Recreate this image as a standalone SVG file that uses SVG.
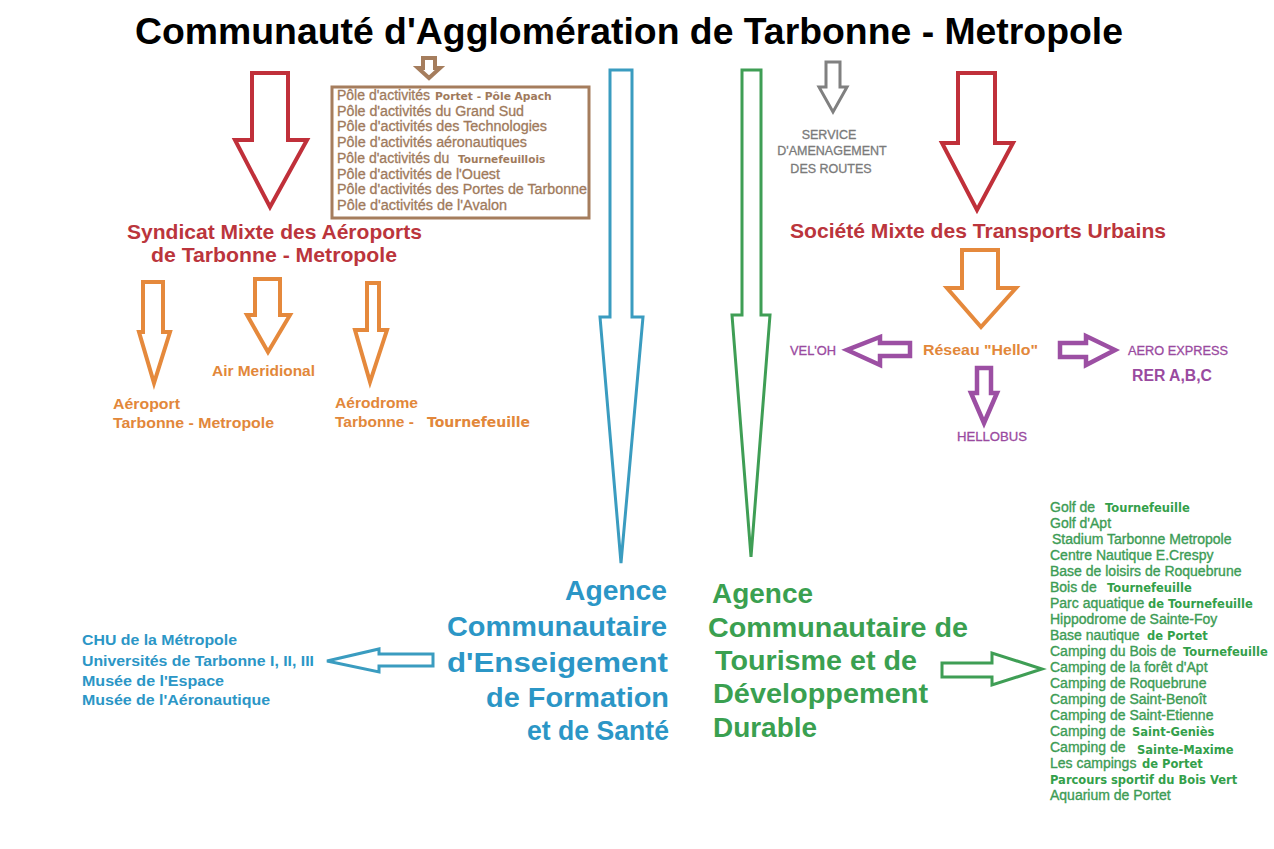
<svg xmlns="http://www.w3.org/2000/svg" width="1274" height="849" viewBox="0 0 1274 849">
<style>
text{font-family:"Liberation Sans",Arial,sans-serif}
.b{font-weight:bold}
.dj{font-family:"DejaVu Sans",Verdana,sans-serif;font-weight:bold;stroke:none}
.arr{fill:#fff;stroke-linejoin:miter}
.red{stroke:#c0303a;stroke-width:4}
.org{stroke:#e5893c;stroke-width:4}
.brn{stroke:#a57d5d;stroke-width:4}
.gry{stroke:#808080;stroke-width:3}
.pur{stroke:#9c4fa3;stroke-width:4.5}
.blu{stroke:#3a9cc0;stroke-width:3}
.grn{stroke:#3f9e55;stroke-width:3}
.tred{fill:#bb353c}
.torg{fill:#e2873a}
.tbrn{fill:#a07a5c;font-size:14px;stroke:#a07a5c;stroke-width:0.3}
.tgry{fill:#7a7a7a;font-size:12.5px;stroke:#7a7a7a;stroke-width:0.3}
.tpur{fill:#9a4a9f}
.thin{stroke:#9a4a9f;stroke-width:0.3}
.tblu{fill:#2b96c6}
.tgrn{fill:#3aa050}
.lst{fill:#3d9c55;font-size:14px;stroke:#3d9c55;stroke-width:0.35}
.lst .dj{font-size:11.5px;fill:#33a04a}
</style>
<rect width="1274" height="849" fill="#fff"/>

<g id="connectors">
  <polygon class="arr red" points="252,73 288,73 288,140 307,140 270,207 235,140 252,140"/>
  <polygon class="arr brn" points="423,58 435,58 435,68 440,68 429,78 418,68 423,68"/>
  <polygon class="arr blu" points="610,70 632,70 632,317 643,317 621,563 600,317 610,317"/>
  <polygon class="arr grn" points="742,70 761,70 761,315 770,315 751,557 732,315 742,315"/>
  <polygon class="arr gry" points="826,62 840,62 840,87 847,87 833,112 819,87 826,87"/>
  <polygon class="arr red" points="958,73 995,73 995,143 1013,143 977,210 942,143 958,143"/>
  <polygon class="arr org" points="143,282 163,282 163,332 170,332 154,383 139,332 143,332"/>
  <polygon class="arr org" points="255,279 280,279 280,315 290,315 268,352 247,315 255,315"/>
  <polygon class="arr org" points="367,283 379,283 379,330 387,330 370,382 355,330 367,330"/>
  <polygon class="arr org" points="962,250 998,250 998,288 1016,288 981,327 947,288 962,288"/>
  <polygon class="arr pur" points="910,343 910,356 880,356 880,365 847,350 880,337 880,343"/>
  <polygon class="arr pur" points="1060,343 1086,343 1086,336 1115,350 1086,365 1086,357 1060,357"/>
  <polygon class="arr pur" points="977,368 991,368 991,393 997,393 984,423 971,393 977,393"/>
  <polygon class="arr blu" points="433,654 433,666 379,666 379,672 327,661 379,649 379,654"/>
  <polygon class="arr grn" points="942,663 992,663 992,653 1042,669 992,685 992,677 942,677"/>
</g>

<g id="title">
  <text x="135" y="44" class="b" font-size="37" fill="#000" textLength="988" lengthAdjust="spacingAndGlyphs">Communauté d'Agglomération de Tarbonne - Metropole</text>
</g>

<g id="poles">
  <rect x="332" y="87" width="257" height="131" fill="none" stroke="#a57d5d" stroke-width="3"/>
  <text class="tbrn" x="337" y="100">Pôle d'activités <tspan class="dj" x="435" font-size="10.7">Portet - Pôle Apach</tspan></text>
  <text class="tbrn" x="337" y="115.7" textLength="187" lengthAdjust="spacingAndGlyphs">Pôle d'activités du Grand Sud</text>
  <text class="tbrn" x="337" y="131.4" textLength="210" lengthAdjust="spacingAndGlyphs">Pôle d'activités des Technologies</text>
  <text class="tbrn" x="337" y="147.1" textLength="190" lengthAdjust="spacingAndGlyphs">Pôle d'activités aéronautiques</text>
  <text class="tbrn" x="337" y="162.8">Pôle d'activités du <tspan class="dj" x="458" font-size="10.5">Tournefeuillois</tspan></text>
  <text class="tbrn" x="337" y="178.5" textLength="163" lengthAdjust="spacingAndGlyphs">Pôle d'activités de l'Ouest</text>
  <text class="tbrn" x="337" y="194.2" textLength="250" lengthAdjust="spacingAndGlyphs">Pôle d'activités des Portes de Tarbonne</text>
  <text class="tbrn" x="337" y="209.9" textLength="170" lengthAdjust="spacingAndGlyphs">Pôle d'activités de l'Avalon</text>
</g>

<g id="syndicat">
  <text class="b tred" x="127" y="239" font-size="21" textLength="295" lengthAdjust="spacingAndGlyphs">Syndicat Mixte des Aéroports</text>
  <text class="b tred" x="151" y="262" font-size="21" textLength="246" lengthAdjust="spacingAndGlyphs">de Tarbonne - Metropole</text>
</g>

<g id="aeroport">
  <text class="b torg" x="113" y="409" font-size="15.5" textLength="67" lengthAdjust="spacingAndGlyphs">Aéroport</text>
  <text class="b torg" x="113" y="428" font-size="15.5" textLength="161" lengthAdjust="spacingAndGlyphs">Tarbonne - Metropole</text>
</g>
<g id="air-meridional">
  <text class="b torg" x="212" y="376" font-size="15.5" textLength="103" lengthAdjust="spacingAndGlyphs">Air Meridional</text>
</g>
<g id="aerodrome">
  <text class="b torg" x="335" y="408" font-size="15.5" textLength="83" lengthAdjust="spacingAndGlyphs">Aérodrome</text>
  <text class="b torg" x="335" y="427" font-size="15.5">Tarbonne - <tspan class="dj" x="427" font-size="14">Tournefeuille</tspan></text>
</g>

<g id="service-routes">
  <text class="tgry" x="829" y="139" text-anchor="middle">SERVICE</text>
  <text class="tgry" x="832" y="155" text-anchor="middle">D'AMENAGEMENT</text>
  <text class="tgry" x="831" y="173" text-anchor="middle">DES ROUTES</text>
</g>

<g id="smtu">
  <text class="b tred" x="790" y="238" font-size="21" textLength="376" lengthAdjust="spacingAndGlyphs">Société Mixte des Transports Urbains</text>
</g>

<g id="reseau-hello">
  <text class="b torg" x="923" y="355" font-size="15.5" textLength="115" lengthAdjust="spacingAndGlyphs">Réseau "Hello"</text>
</g>
<g id="veloh">
  <text class="tpur thin" x="790" y="355" font-size="12.5" textLength="46" lengthAdjust="spacingAndGlyphs">VEL'OH</text>
</g>
<g id="aero-express">
  <text class="tpur thin" x="1128" y="355" font-size="12.5" textLength="100" lengthAdjust="spacingAndGlyphs">AERO EXPRESS</text>
  <text class="b tpur" x="1132" y="381" font-size="16" textLength="80" lengthAdjust="spacingAndGlyphs">RER A,B,C</text>
</g>
<g id="hellobus">
  <text class="tpur thin" x="957" y="441" font-size="12.5" textLength="70" lengthAdjust="spacingAndGlyphs">HELLOBUS</text>
</g>

<g id="agence-enseignement">
  <text class="b tblu" x="565" y="600" font-size="28" textLength="102" lengthAdjust="spacingAndGlyphs">Agence</text>
  <text class="b tblu" x="447" y="636" font-size="28" textLength="220" lengthAdjust="spacingAndGlyphs">Communautaire</text>
  <text class="b tblu" x="447" y="672" font-size="28" textLength="221" lengthAdjust="spacingAndGlyphs">d'Enseigement</text>
  <text class="b tblu" x="486" y="707" font-size="28" textLength="183" lengthAdjust="spacingAndGlyphs">de Formation</text>
  <text class="b tblu" x="527" y="740" font-size="28" textLength="142" lengthAdjust="spacingAndGlyphs">et de Santé</text>
</g>

<g id="etablissements">
  <text class="b tblu" x="82" y="645" font-size="14" textLength="155" lengthAdjust="spacingAndGlyphs">CHU de la Métropole</text>
  <text class="b tblu" x="82" y="666" font-size="14" textLength="232" lengthAdjust="spacingAndGlyphs">Universités de Tarbonne I, II, III</text>
  <text class="b tblu" x="82" y="686" font-size="14" textLength="142" lengthAdjust="spacingAndGlyphs">Musée de l'Espace</text>
  <text class="b tblu" x="82" y="705" font-size="14" textLength="188" lengthAdjust="spacingAndGlyphs">Musée de l'Aéronautique</text>
</g>

<g id="agence-tourisme">
  <text class="b tgrn" x="712" y="603" font-size="28" textLength="101" lengthAdjust="spacingAndGlyphs">Agence</text>
  <text class="b tgrn" x="708" y="637" font-size="28" textLength="260" lengthAdjust="spacingAndGlyphs">Communautaire de</text>
  <text class="b tgrn" x="715" y="670" font-size="28" textLength="202" lengthAdjust="spacingAndGlyphs">Tourisme et de</text>
  <text class="b tgrn" x="713" y="703" font-size="28" textLength="215" lengthAdjust="spacingAndGlyphs">Développement</text>
  <text class="b tgrn" x="713" y="737" font-size="28" textLength="104" lengthAdjust="spacingAndGlyphs">Durable</text>
</g>

<g id="equipements">
  <text class="lst" x="1050" y="512">Golf de <tspan class="dj" x="1105">Tournefeuille</tspan></text>
  <text class="lst" x="1050" y="528">Golf d'Apt</text>
  <text class="lst" x="1052" y="544">Stadium Tarbonne Metropole</text>
  <text class="lst" x="1050" y="560">Centre Nautique E.Crespy</text>
  <text class="lst" x="1050" y="576">Base de loisirs de Roquebrune</text>
  <text class="lst" x="1050" y="592">Bois de <tspan class="dj" x="1107">Tournefeuille</tspan></text>
  <text class="lst" x="1050" y="608">Parc aquatique <tspan class="dj" x="1148">de Tournefeuille</tspan></text>
  <text class="lst" x="1050" y="624">Hippodrome de Sainte-Foy</text>
  <text class="lst" x="1050" y="640">Base nautique <tspan class="dj" x="1147">de Portet</tspan></text>
  <text class="lst" x="1050" y="656">Camping du Bois de <tspan class="dj" x="1183">Tournefeuille</tspan></text>
  <text class="lst" x="1050" y="672">Camping de la forêt d'Apt</text>
  <text class="lst" x="1050" y="688">Camping de Roquebrune</text>
  <text class="lst" x="1050" y="704">Camping de Saint-Benoît</text>
  <text class="lst" x="1050" y="720">Camping de Saint-Etienne</text>
  <text class="lst" x="1050" y="736">Camping de <tspan class="dj" x="1132">Saint-Geniès</tspan></text>
  <text class="lst" x="1050" y="752">Camping de <tspan class="dj" x="1137" dy="2">Sainte-Maxime</tspan></text>
  <text class="lst" x="1050" y="768">Les campings <tspan class="dj" x="1142">de Portet</tspan></text>
  <text class="lst" x="1050" y="784"><tspan class="dj">Parcours sportif du Bois Vert</tspan></text>
  <text class="lst" x="1050" y="800">Aquarium de Portet</text>
</g>
</svg>
